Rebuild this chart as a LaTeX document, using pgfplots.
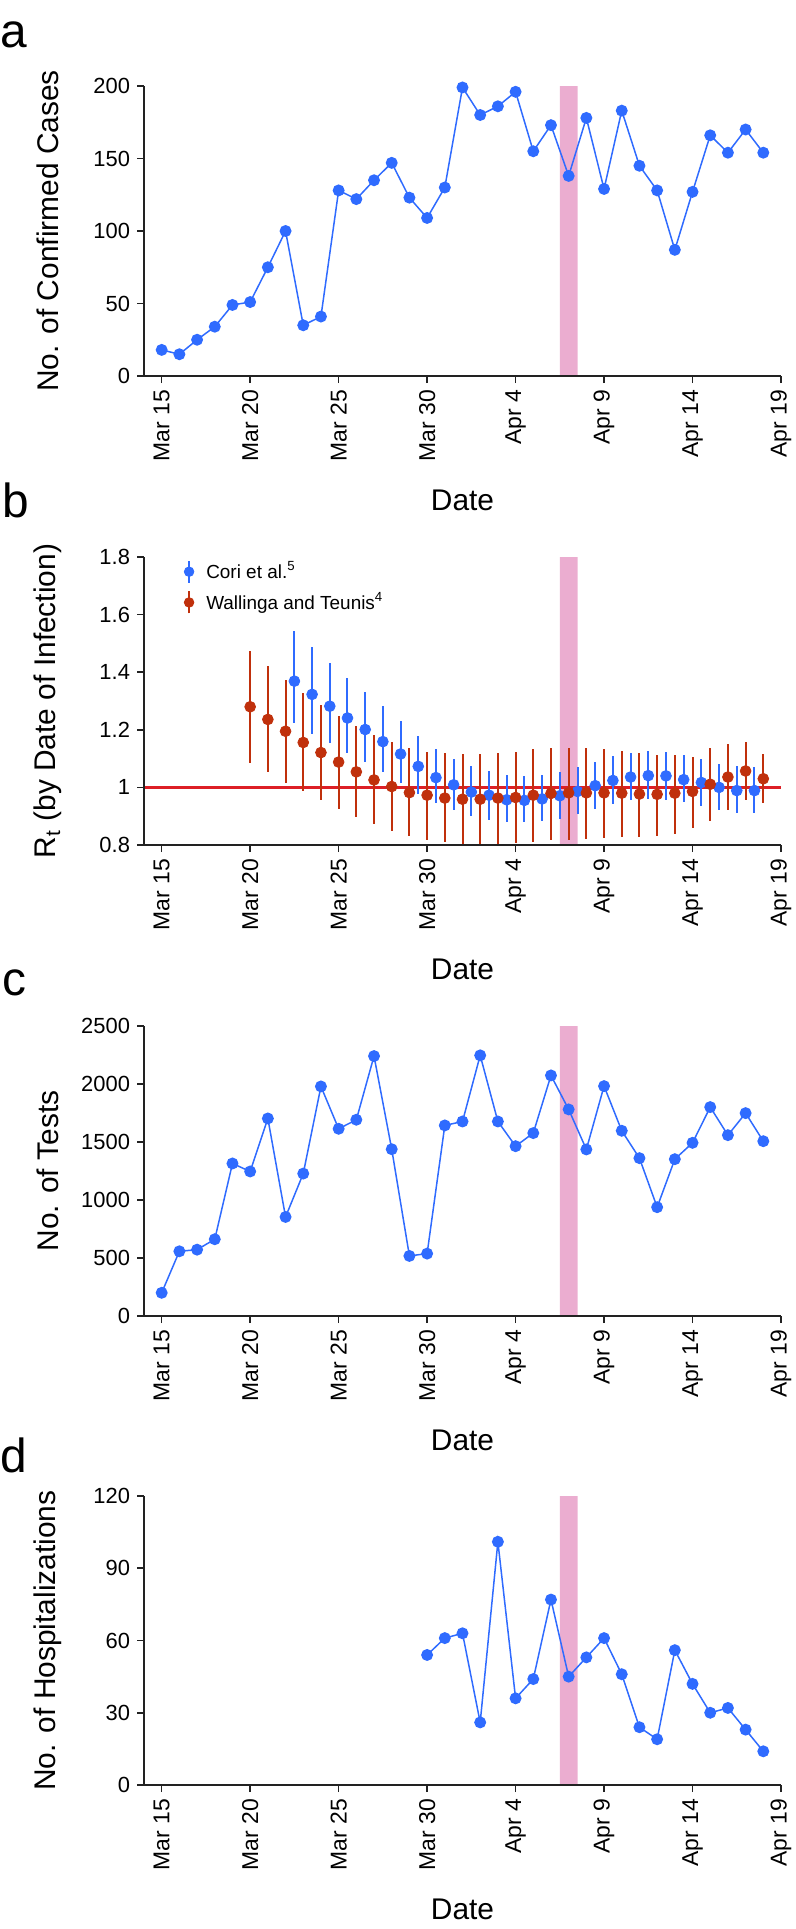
\documentclass[border=0pt]{standalone}
\usepackage{fontspec}
\setmainfont{Liberation Sans}
\setsansfont{Liberation Sans}
\usepackage{pgfplots}
\usepackage{pgfplotstable}
\pgfplotsset{compat=1.18}
\definecolor{ptblue}{HTML}{2F6BFF}
\definecolor{wtred}{HTML}{C0300C}
\definecolor{refred}{HTML}{DD1F26}
\definecolor{bandpink}{HTML}{EBADD0}
\definecolor{axcol}{HTML}{222222}

\pgfplotstableread{
day cases
0 18
1 15
2 25
3 34
4 49
5 51
6 75
7 100
8 35
9 41
10 128
11 122
12 135
13 147
14 123
15 109
16 130
17 199
18 180
19 186
20 196
21 155
22 173
23 138
24 178
25 129
26 183
27 145
28 128
29 87
30 127
31 166
32 154
33 170
34 154
}\casestable

\pgfplotstableread{
day r lo hi
7.5 1.369 1.223 1.542
8.5 1.323 1.186 1.486
9.5 1.282 1.153 1.432
10.5 1.241 1.121 1.381
11.5 1.201 1.089 1.331
12.5 1.159 1.055 1.282
13.5 1.116 1.017 1.230
14.5 1.073 0.978 1.179
15.5 1.034 0.945 1.135
16.5 1.009 0.920 1.099
17.5 0.984 0.899 1.073
18.5 0.973 0.888 1.057
19.5 0.957 0.879 1.044
20.5 0.955 0.879 1.040
21.5 0.960 0.882 1.044
22.5 0.971 0.890 1.053
23.5 0.986 0.907 1.070
24.5 1.006 0.925 1.089
25.5 1.024 0.943 1.108
26.5 1.036 0.955 1.121
27.5 1.041 0.959 1.126
28.5 1.040 0.955 1.123
29.5 1.027 0.948 1.111
30.5 1.017 0.934 1.098
31.5 1.000 0.920 1.083
32.5 0.989 0.911 1.073
33.5 0.989 0.911 1.070
}\coritable

\pgfplotstableread{
day r lo hi
5 1.280 1.086 1.473
6 1.236 1.052 1.421
7 1.195 1.017 1.373
8 1.156 0.986 1.329
9 1.121 0.955 1.285
10 1.088 0.926 1.248
11 1.054 0.898 1.213
12 1.026 0.873 1.181
13 1.003 0.850 1.156
14 0.982 0.830 1.138
15 0.973 0.818 1.124
16 0.963 0.809 1.119
17 0.959 0.805 1.116
18 0.959 0.802 1.116
19 0.963 0.805 1.121
20 0.965 0.807 1.124
21 0.973 0.812 1.133
22 0.979 0.816 1.137
23 0.981 0.818 1.138
24 0.981 0.822 1.138
25 0.981 0.825 1.133
26 0.980 0.828 1.127
27 0.977 0.828 1.119
28 0.976 0.832 1.113
29 0.980 0.839 1.112
30 0.986 0.859 1.107
31 1.011 0.884 1.136
32 1.036 0.920 1.150
33 1.057 0.955 1.159
34 1.030 0.946 1.115
}\wttable

\pgfplotstableread{
day tests
0 200
1 558
2 572
3 662
4 1315
5 1246
6 1703
7 854
8 1228
9 1979
10 1614
11 1692
12 2241
13 1438
14 518
15 538
16 1643
17 1677
18 2247
19 1677
20 1464
21 1577
22 2074
23 1781
24 1436
25 1982
26 1597
27 1361
28 938
29 1352
30 1493
31 1801
32 1559
33 1749
34 1507
}\teststable

\pgfplotstableread{
day hosp
15 54
16 61
17 63
18 26
19 101
20 36
21 44
22 77
23 45
24 53
25 61
26 46
27 24
28 19
29 56
30 42
31 30
32 32
33 23
34 14
}\hosptable

\pgfplotsset{
  panel/.style={
    scale only axis, width=318.5bp,
    xmin=-1, xmax=35,
    axis lines=left, axis line style={-, line width=0.8bp, axcol},
    axis on top,
    tick align=outside, major tick length=3.5bp,
    tick style={line width=0.8bp, axcol},
    xtick={0,5,...,35},
    xticklabels={Mar 15,Mar 20,Mar 25,Mar 30,Apr 4,Apr 9,Apr 14,Apr 19},
    xticklabel style={rotate=90, anchor=east, font=\fontsize{11.5}{13}\selectfont},
    yticklabel style={font=\fontsize{11}{13}\selectfont},
    /pgf/number format/assume math mode=true,
    /pgf/number format/1000 sep={},
    xlabel={Date},
    every axis x label/.style={at={(axis description cs:0.5,0)}, yshift=-62bp, anchor=center, font=\fontsize{15}{18}\selectfont},
    every axis y label/.style={at={(axis description cs:-0.1507,0.5)}, rotate=90, anchor=center, font=\fontsize{15}{18}\selectfont},
  },
  trend/.style={color=ptblue, line width=0.75bp, mark=*, mark size=2.6bp, mark options={solid, fill=ptblue, draw=none}},
}

\begin{document}
\begin{tikzpicture}
\useasboundingbox (0,0) rectangle (398bp,-964.5bp);

\node[anchor=base west, inner sep=0, font=\fontsize{24}{28}\selectfont] at (0bp,-23.5bp) {a};
\node[anchor=base west, inner sep=0, font=\fontsize{24}{28}\selectfont] at (1bp,-258.5bp) {b};
\node[anchor=base west, inner sep=0, font=\fontsize{24}{28}\selectfont] at (1bp,-497.5bp) {c};
\node[anchor=base west, inner sep=0, font=\fontsize{24}{28}\selectfont] at (0bp,-736bp) {d};

% panel a
\begin{axis}[panel, at={(72bp,-188bp)}, anchor=south west, height=145bp,
  ymin=0, ymax=200, ytick={0,50,...,200},
  ylabel={No. of Confirmed Cases}]
\addplot[fill=bandpink, draw=none] coordinates {(22.5,0) (23.5,0) (23.5,200) (22.5,200)} \closedcycle;
\addplot[trend] table[x=day, y=cases] {\casestable};
\end{axis}

% panel b
\begin{axis}[panel, at={(72bp,-422.5bp)}, anchor=south west, height=144bp,
  ymin=0.8, ymax=1.8, ytick={0.8,1,1.2,1.4,1.6,1.8},
  ylabel={R\textsubscript{t} (by Date of Infection)},
  legend style={at={(axis description cs:0.062,0.995)}, anchor=north west, draw=none, fill=none,
    inner sep=0pt, nodes={inner sep=1.5bp},
    font=\fontsize{9.5}{11}\selectfont, row sep=2.5bp, /tikz/column sep=4.5bp},
  legend cell align=left]
\addplot[fill=bandpink, draw=none, forget plot] coordinates {(22.5,0.8) (23.5,0.8) (23.5,1.8) (22.5,1.8)} \closedcycle;
\addplot[refred, line width=1.5bp, forget plot] coordinates {(-1,1) (35,1)};
\addplot[only marks, color=ptblue, mark=*, mark size=2.7bp, mark options={fill=ptblue, draw=none},
  legend image code/.code={\draw[ptblue, line width=1bp] (0bp,-5.5bp) -- (0bp,5.5bp); \fill[ptblue] (0bp,0bp) circle (2.4bp);},
  error bars/.cd, y dir=both, y explicit, error mark=none,
  error bar style={line width=1bp, ptblue}]
  table[x=day, y=r, y error plus expr=\thisrow{hi}-\thisrow{r}, y error minus expr=\thisrow{r}-\thisrow{lo}] {\coritable};
\addlegendentry{Cori et al.\textsuperscript{5}}
\addplot[only marks, color=wtred, mark=*, mark size=2.7bp, mark options={fill=wtred, draw=none},
  legend image code/.code={\draw[wtred, line width=1bp] (0bp,-5.5bp) -- (0bp,5.5bp); \fill[wtred] (0bp,0bp) circle (2.4bp);},
  error bars/.cd, y dir=both, y explicit, error mark=none,
  error bar style={line width=1bp, wtred}]
  table[x=day, y=r, y error plus expr=\thisrow{hi}-\thisrow{r}, y error minus expr=\thisrow{r}-\thisrow{lo}] {\wttable};
\addlegendentry{Wallinga and Teunis\textsuperscript{4}}
\end{axis}

% panel c
\begin{axis}[panel, at={(72bp,-658bp)}, anchor=south west, height=145bp,
  ymin=0, ymax=2500, ytick={0,500,...,2500},
  ylabel={No. of Tests}]
\addplot[fill=bandpink, draw=none] coordinates {(22.5,0) (23.5,0) (23.5,2500) (22.5,2500)} \closedcycle;
\addplot[trend] table[x=day, y=tests] {\teststable};
\end{axis}

% panel d
\begin{axis}[panel, at={(72bp,-892.5bp)}, anchor=south west, height=144.5bp,
  ymin=0, ymax=120, ytick={0,30,...,120},
  ylabel={No. of Hospitalizations}]
\addplot[fill=bandpink, draw=none] coordinates {(22.5,0) (23.5,0) (23.5,120) (22.5,120)} \closedcycle;
\addplot[trend] table[x=day, y=hosp] {\hosptable};
\end{axis}
\end{tikzpicture}
\end{document}
